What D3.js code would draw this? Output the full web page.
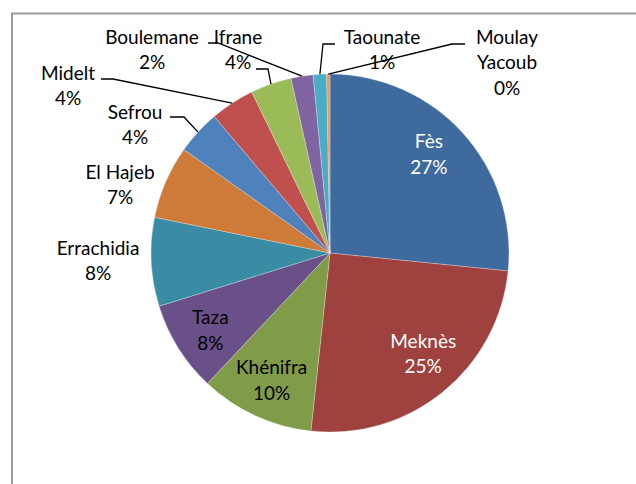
<!DOCTYPE html>
<html>
<head>
<meta charset="utf-8">
<script src="https://cdn.jsdelivr.net/npm/d3@7"></script>
<style>
  body { margin: 0; background: #fff; }
  text { font-family: Lato, "Open Sans", sans-serif; }
</style>
</head>
<body>
<svg id="chart" width="636" height="484"></svg>
<script>
// provinces, clockwise from 12 o'clock
const provinces = ["Fès", "Meknès", "Khénifra", "Taza", "Errachidia", "El Hajeb",
  "Sefrou", "Midelt", "Ifrane", "Boulemane", "Taounate", "Moulay Yacoub"];
// shares (%)
const shares = [26.6, 25.1, 10.3, 8.2, 8.0, 6.6, 4.0, 4.0, 3.7, 2.0, 1.2, 0.3];
const sliceColors = ["#3f6a9d", "#9f413e", "#809c48", "#6a5088", "#3a8ca4", "#ce7a38",
  "#4f81bd", "#c0504d", "#9bbb59", "#8064a2", "#4bacc6", "#f79646"];

// label layout: inside labels get a small nudge, outside ones a fixed spot + leader
const labelLayout = {
  "Fès":          { inside: true, dx: -5, dy: -5, color: "#fff" },
  "Meknès":       { inside: true, dx: 5, dy: -8, color: "#fff" },
  "Khénifra":     { inside: true, dx: 0, dy: 0 },
  "Taza":         { inside: true, dx: -1, dy: 3 },
  "Errachidia":   { x: 98, y: 248 },
  "El Hajeb":     { x: 120, y: 172 },
  "Sefrou":       { x: 135, y: 112, leader: [[170, 117], [184, 117]] },
  "Midelt":       { x: 68, y: 73, leader: [[101, 79], [113, 79]] },
  "Ifrane":       { x: 238, y: 37, leader: [[256, 69], [268, 69]] },
  "Boulemane":    { x: 152, y: 37, leader: [[208, 43], [218, 43]] },
  "Taounate":     { x: 382, y: 37, leader: [[335, 44], [323, 44]] },
  "Moulay Yacoub":{ x: 507, y: 37, lines: ["Moulay", "Yacoub"], leader: [[465, 44], [452, 44]] }
};

const svg = d3.select("#chart");
const cx = 330, cy = 253, radius = 179;
const fontSize = 19, lineH = 25.5;

// chart frame (runs off the right/bottom edge like the source)
svg.append("rect")
  .attr("x", 12).attr("y", 13.5)
  .attr("width", 700).attr("height", 600)
  .attr("fill", "none")
  .attr("stroke", "#9a9a9a")
  .attr("stroke-width", 2);

const data = provinces.map((p, i) => ({ name: p, value: shares[i], color: sliceColors[i] }));
const total = d3.sum(shares);

const pie = d3.pie().value(d => d.value).sort(null);
const arcs = pie(data);
const arc = d3.arc().innerRadius(0).outerRadius(radius);
const labelArc = d3.arc().innerRadius(140).outerRadius(140);
const edgeArc = d3.arc().innerRadius(radius).outerRadius(radius);

const g = svg.append("g").attr("transform", `translate(${cx},${cy})`);

g.selectAll(".slice")
  .data(arcs)
  .enter()
  .append("path")
  .attr("class", "slice")
  .attr("d", arc)
  .attr("fill", d => d.data.color)
  .attr("stroke", "rgba(255,255,255,0.45)")
  .attr("stroke-width", 0.6);

const pct = d => Math.round(d.data.value / total * 100) + "%";

arcs.forEach(d => {
  const lay = labelLayout[d.data.name];
  const lines = (lay.lines || [d.data.name]).concat([pct(d)]);
  let x, y;
  if (lay.inside) {
    const c = labelArc.centroid(d);
    x = cx + c[0] + lay.dx;
    y = cy + c[1] - lineH / 2 + lay.dy;
  } else {
    x = lay.x;
    y = lay.y;
  }
  const t = svg.append("text")
    .attr("text-anchor", "middle")
    .attr("font-size", fontSize)
    .attr("fill", lay.color || "#000");
  lines.forEach((s, i) => {
    t.append("tspan")
      .attr("x", x)
      .attr("y", y + i * lineH + fontSize * 0.36)
      .text(s);
  });

  if (lay.leader) {
    const e = edgeArc.centroid(d);
    const pts = lay.leader.concat([[cx + e[0], cy + e[1]]]);
    svg.append("path")
      .attr("d", d3.line()(pts))
      .attr("fill", "none")
      .attr("stroke", "#000")
      .attr("stroke-width", 1.3);
  }
});
</script>
</body>
</html>
